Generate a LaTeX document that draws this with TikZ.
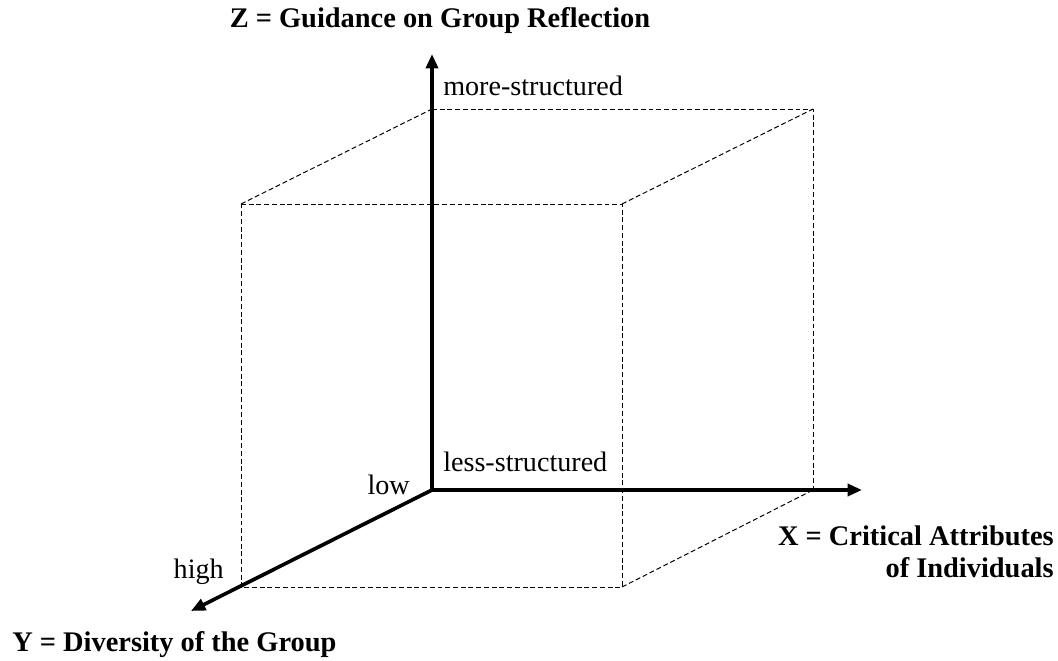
\documentclass[tikz,border=0pt]{standalone}
\usepackage{fontspec}
\setmainfont{Liberation Serif}
\usetikzlibrary{arrows.meta,positioning}

\begin{document}
\begin{tikzpicture}[x=0.025cm, y=-0.025cm,
axis/.style={line width=2.6pt, -{Triangle[length=3.6mm,width=3mm]}},
edge/.style={line width=0.7pt, dash pattern=on 3.5pt off 2pt},
lbl/.style={inner sep=0pt, font=\fontsize{20}{22}\selectfont},
title/.style={inner sep=0pt, font=\fontsize{20.2}{23}\selectfont\bfseries}
]
\useasboundingbox (0,0) rectangle (1058,661);

% cube corners
\coordinate (o)  at (432,490);
\coordinate (bt) at (432,109);
\coordinate (btr) at (813,109);
\coordinate (bbr) at (813,490);
\coordinate (ftl) at (241,204);
\coordinate (ftr) at (622,204);
\coordinate (fbr) at (622,587);
\coordinate (fbl) at (241,587);

% axis ends
\coordinate (zend) at (432,54);
\coordinate (xend) at (862,490);
\coordinate (yend) at (191,611);

% dashed cube
\draw[edge] (bt) -- (btr) -- (bbr);
\draw[edge] (ftl) -- (ftr) -- (fbr) -- (fbl) -- cycle;
\draw[edge] (ftl) -- (bt);
\draw[edge] (ftr) -- (btr);
\draw[edge] (fbr) -- (bbr);

% axes
\draw[axis] (o) -- (zend);
\draw[axis] (o) -- (xend);
\draw[axis] (o) -- (yend);

% labels
\node[title] (ztitle) at (440,21) {Z = Guidance on Group Reflection};
\node[lbl, anchor=west] (more) at (443,86) {more-structured};
\node[lbl, anchor=west] (less) at (443,462) {less-structured};
\node[lbl, anchor=east] (low) at (410,485) {low};
\node[lbl, anchor=east] (high) at (224,572) {high};
\node[title, anchor=east, align=right] (xtitle) at (1054,552) {X = Critical Attributes\\of Individuals};
\node[title, anchor=west] (ytitle) at (12,645) {Y = Diversity of the Group};

\end{tikzpicture}
\end{document}
